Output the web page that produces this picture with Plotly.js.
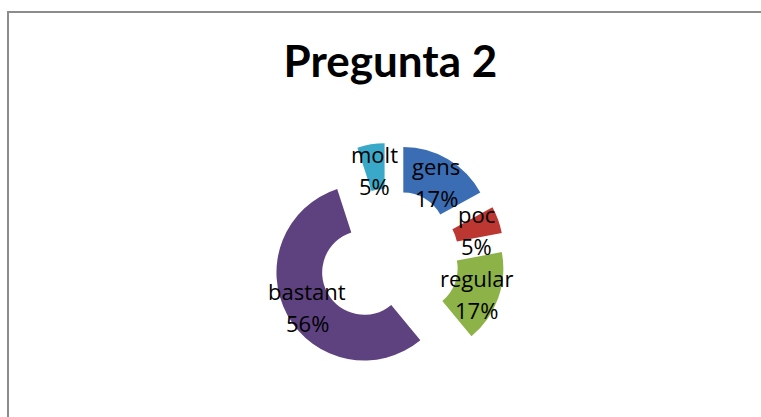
<!DOCTYPE html>
<html>
<head>
<meta charset="utf-8">
<script src="https://cdn.plot.ly/plotly-3.0.1.min.js"></script>
<style>
  html, body { margin: 0; padding: 0; background: #fff; }
  #wrap { position: relative; width: 761px; height: 417px; overflow: hidden; }
  #chart { width: 761px; height: 417px; }
  #frame { position: absolute; left: 7px; top: 11px; width: 800px; height: 500px;
           border-left: 2px solid #8c8c8c; border-top: 2px solid #8c8c8c; pointer-events: none; }
</style>
</head>
<body>
<div id="wrap">
  <div id="chart"></div>
  <div id="frame"></div>
</div>
<script>
const categories = ["gens", "poc", "regular", "bastant", "molt"];
const values = [17, 5, 17, 56, 5];
const colors = ["#3A6DB3", "#BC3632", "#8DB247", "#5E4280", "#3AA8C8"];

const W = 761, H = 417;
const PULL = 0.32, HOLE = 0.48;
const domain = { x: [0.3587, 0.6636], y: [0.1007, 0.6571] };
const labelFont = { family: "'Open Sans', Lato, sans-serif", size: 22, color: "#000" };

const trace = {
  type: "pie",
  labels: categories,
  values: values,
  sort: false,
  direction: "clockwise",
  rotation: 0,
  hole: HOLE,
  pull: categories.map(() => PULL),
  marker: { colors: colors, line: { width: 0 } },
  textinfo: "none",
  domain: domain,
  showlegend: false,
  hoverinfo: "label+percent"
};

// data labels placed at each (pulled) slice's mid-ring centroid, derived from the values
const total = values.reduce((a, b) => a + b, 0);
const cx = (domain.x[0] + domain.x[1]) / 2 * W;
const cy = (1 - (domain.y[0] + domain.y[1]) / 2) * H;
const R = Math.min((domain.x[1] - domain.x[0]) * W, (domain.y[1] - domain.y[0]) * H) / 2 / (1 + PULL);
const rMid = (R + R * HOLE) / 2;
const annotations = [];
let cum = 0;
values.forEach((v, i) => {
  const a = (cum + v / 2) / total * 2 * Math.PI;
  cum += v;
  const dx = Math.sin(a), dy = -Math.cos(a);
  const px = cx + dx * (R * PULL + rMid);
  const py = cy + dy * (R * PULL + rMid);
  const pct = Math.round(v / total * 100) + "%";
  const base = { xref: "paper", yref: "paper", x: px / W, y: 1 - py / H,
                 xanchor: "center", yanchor: "middle", showarrow: false, font: labelFont };
  annotations.push(Object.assign({}, base, { text: categories[i], yshift: 13 }));
  annotations.push(Object.assign({}, base, { text: pct, yshift: -19 }));
});

const layout = {
  width: W,
  height: H,
  margin: { l: 0, r: 0, t: 0, b: 0 },
  paper_bgcolor: "#fff",
  title: {
    text: "<b>Pregunta 2</b>",
    font: { family: "Lato, 'Open Sans', sans-serif", size: 44, color: "#000" },
    x: 0.513, xanchor: "center",
    y: 0.853, yanchor: "middle"
  },
  annotations: annotations,
  showlegend: false
};

Plotly.newPlot("chart", [trace], layout, { staticPlot: true, displayModeBar: false });
</script>
</body>
</html>
